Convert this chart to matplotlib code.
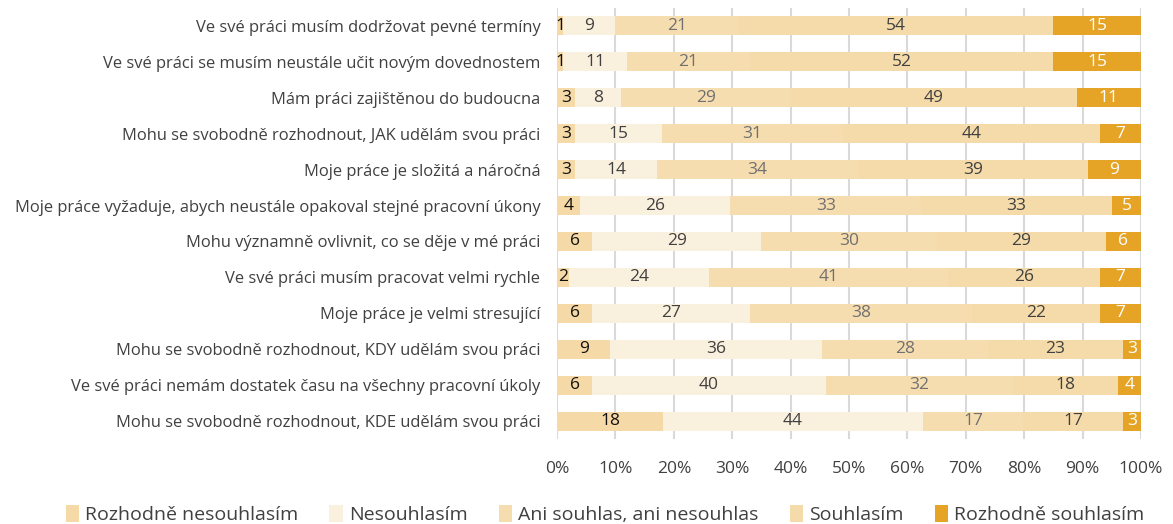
import matplotlib.pyplot as plt
import numpy as np

plt.rcParams['font.family'] = ['Open Sans', 'DejaVu Sans']

# Statements (top to bottom)
statements = [
    'Ve své práci musím dodržovat pevné termíny',
    'Ve své práci se musím neustále učit novým dovednostem',
    'Mám práci zajištěnou do budoucna',
    'Mohu se svobodně rozhodnout, JAK udělám svou práci',
    'Moje práce je složitá a náročná',
    'Moje práce vyžaduje, abych neustále opakoval stejné pracovní úkony',
    'Mohu významně ovlivnit, co se děje v mé práci',
    'Ve své práci musím pracovat velmi rychle',
    'Moje práce je velmi stresující',
    'Mohu se svobodně rozhodnout, KDY udělám svou práci',
    'Ve své práci nemám dostatek času na všechny pracovní úkoly',
    'Mohu se svobodně rozhodnout, KDE udělám svou práci',
]

categories = ['Rozhodně nesouhlasím', 'Nesouhlasím', 'Ani souhlas, ani nesouhlas',
              'Souhlasím', 'Rozhodně souhlasím']

strongly_disagree = [1, 1, 3, 3, 3, 4, 6, 2, 6, 9, 6, 18]
disagree = [9, 11, 8, 15, 14, 26, 29, 24, 27, 36, 40, 44]
neutral = [21, 21, 29, 31, 34, 33, 30, 41, 38, 28, 32, 17]
agree = [54, 52, 49, 44, 39, 33, 29, 26, 22, 23, 18, 17]
strongly_agree = [15, 15, 11, 7, 9, 5, 6, 7, 7, 3, 4, 3]

colors = ['#F5D9A6', '#FAF0DE', '#F6DDB0', '#F5DBA9', '#E6A427']
label_colors = ['#111111', '#404040', '#707070', '#404040', 'white']

series = np.array([strongly_disagree, disagree, neutral, agree, strongly_agree], dtype=float)
shares = series / series.sum(axis=0) * 100

fig = plt.figure(figsize=(11.73, 5.24), dpi=100)
ax = fig.add_axes([0.4749, 0.162, 0.4978, 0.823])

y = np.arange(len(statements))
left = np.zeros(len(statements))
for i, cat in enumerate(categories):
    bars = ax.barh(y, shares[i], left=left, height=0.53, color=colors[i],
                   label=cat, zorder=2)
    for j, b in enumerate(bars):
        ax.text(b.get_x() + b.get_width() / 2, b.get_y() + b.get_height() / 2,
                f'{int(series[i, j])}', ha='center', va='center',
                fontsize=12.5, color=label_colors[i], zorder=3)
    left += shares[i]

ax.set_xlim(0, 100)
ax.set_ylim(len(statements) - 0.5, -0.5)
ax.set_yticks(y)
ax.set_yticklabels(statements, fontsize=11.9, color='#404040')
ax.set_xticks(np.arange(0, 101, 10))
ax.set_xticklabels([f'{v}%' for v in range(0, 101, 10)], fontsize=12.5, color='#404040')
ax.tick_params(length=0, axis='both')
ax.tick_params(axis='x', pad=16)
ax.tick_params(axis='y', pad=12)
ax.grid(axis='x', color='#D9D9D9', linewidth=1.5, zorder=0)
for s in ax.spines.values():
    s.set_visible(False)

ax.legend(loc='center', bbox_to_anchor=(0.082, -0.175), ncol=5, frameon=False,
          fontsize=14, handlelength=0.7, handleheight=1.0, handletextpad=0.3,
          columnspacing=1.6, labelcolor='#404040')

fig.savefig('out.png', dpi=100)
